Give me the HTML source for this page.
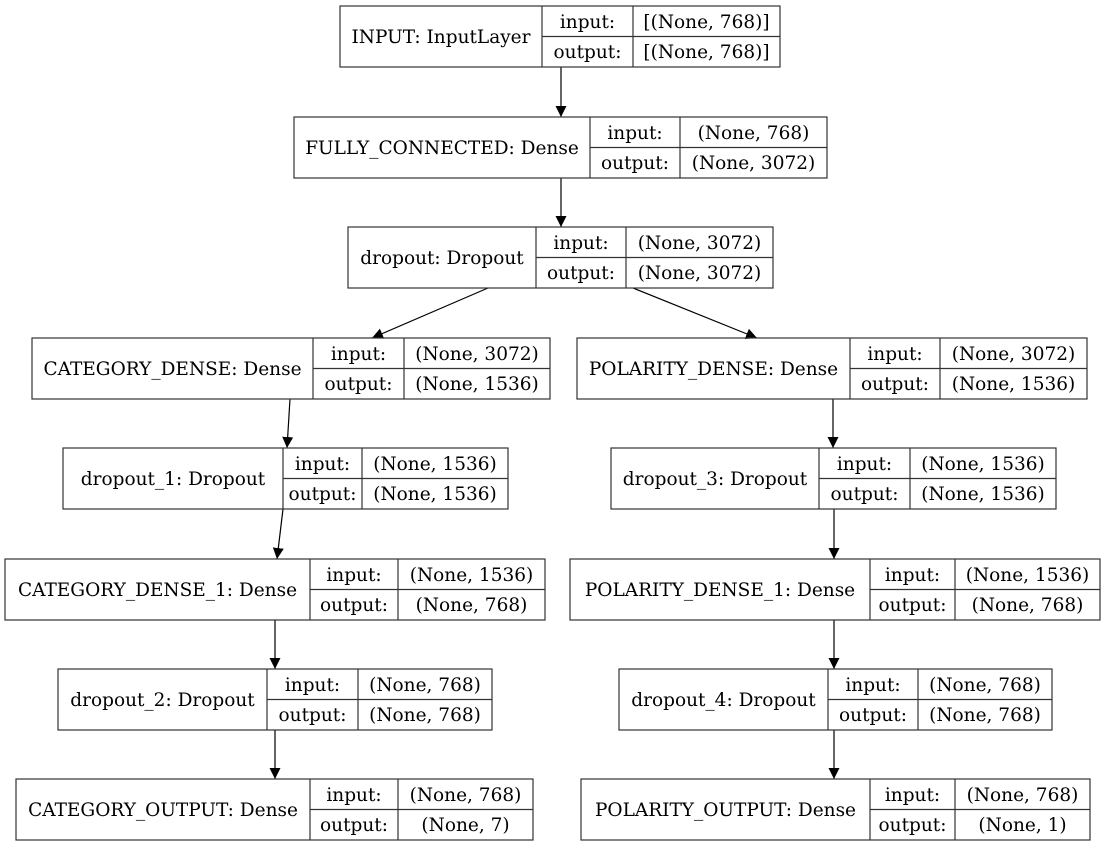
<!DOCTYPE html>
<html><head><meta charset="utf-8"><style>
html,body{margin:0;padding:0;background:#fff;}
svg{display:block;}
text{font-family:"DejaVu Serif","Liberation Serif",serif;font-size:18.5px;fill:#000;}
</style></head><body>
<svg width="1106" height="848" viewBox="0 0 1106 848" xmlns="http://www.w3.org/2000/svg">
<defs><marker id="a" markerWidth="12" markerHeight="12" refX="11" refY="5.5" orient="auto" markerUnits="userSpaceOnUse"><path d="M0,0 L11,5.5 L0,11 z" fill="#000"/></marker></defs>
<g stroke="#000" stroke-width="1.2" fill="none" marker-end="url(#a)">
<line x1="561" y1="67" x2="561" y2="117"/>
<line x1="561" y1="178" x2="561" y2="227"/>
<line x1="488" y1="288" x2="372" y2="338"/>
<line x1="633" y1="288" x2="757" y2="338"/>
<line x1="290" y1="399" x2="287" y2="448"/>
<line x1="833" y1="399" x2="833" y2="448"/>
<line x1="283" y1="509" x2="277" y2="559"/>
<line x1="834" y1="509" x2="834" y2="559"/>
<line x1="275" y1="620" x2="275" y2="669"/>
<line x1="834" y1="620" x2="834" y2="669"/>
<line x1="275" y1="730" x2="275" y2="779"/>
<line x1="834" y1="730" x2="834" y2="779"/>
</g>
<g stroke="#333" stroke-width="1.2" fill="none">
<rect x="340" y="6" width="440" height="61"/><line x1="542" y1="6" x2="542" y2="67"/><line x1="633" y1="6" x2="633" y2="67"/><line x1="542" y1="36.5" x2="780" y2="36.5"/>
<rect x="294" y="117" width="533" height="61"/><line x1="590" y1="117" x2="590" y2="178"/><line x1="680" y1="117" x2="680" y2="178"/><line x1="590" y1="147.5" x2="827" y2="147.5"/>
<rect x="348" y="227" width="425" height="61"/><line x1="536" y1="227" x2="536" y2="288"/><line x1="626" y1="227" x2="626" y2="288"/><line x1="536" y1="257.5" x2="773" y2="257.5"/>
<rect x="32" y="338" width="518" height="61"/><line x1="313" y1="338" x2="313" y2="399"/><line x1="404" y1="338" x2="404" y2="399"/><line x1="313" y1="368.5" x2="550" y2="368.5"/>
<rect x="577" y="338" width="510" height="61"/><line x1="850" y1="338" x2="850" y2="399"/><line x1="940" y1="338" x2="940" y2="399"/><line x1="850" y1="368.5" x2="1087" y2="368.5"/>
<rect x="63" y="448" width="445" height="61"/><line x1="283" y1="448" x2="283" y2="509"/><line x1="362" y1="448" x2="362" y2="509"/><line x1="283" y1="478.5" x2="508" y2="478.5"/>
<rect x="611" y="448" width="445" height="61"/><line x1="819" y1="448" x2="819" y2="509"/><line x1="910" y1="448" x2="910" y2="509"/><line x1="819" y1="478.5" x2="1056" y2="478.5"/>
<rect x="5" y="559" width="540" height="61"/><line x1="310" y1="559" x2="310" y2="620"/><line x1="398" y1="559" x2="398" y2="620"/><line x1="310" y1="589.5" x2="545" y2="589.5"/>
<rect x="570" y="559" width="530" height="61"/><line x1="870" y1="559" x2="870" y2="620"/><line x1="955" y1="559" x2="955" y2="620"/><line x1="870" y1="589.5" x2="1100" y2="589.5"/>
<rect x="58" y="669" width="434" height="61"/><line x1="267" y1="669" x2="267" y2="730"/><line x1="358" y1="669" x2="358" y2="730"/><line x1="267" y1="699.5" x2="492" y2="699.5"/>
<rect x="619" y="669" width="433" height="61"/><line x1="828" y1="669" x2="828" y2="730"/><line x1="918" y1="669" x2="918" y2="730"/><line x1="828" y1="699.5" x2="1052" y2="699.5"/>
<rect x="16" y="779" width="517" height="61"/><line x1="310" y1="779" x2="310" y2="840"/><line x1="398" y1="779" x2="398" y2="840"/><line x1="310" y1="809.5" x2="533" y2="809.5"/>
<rect x="581" y="779" width="509" height="61"/><line x1="870" y1="779" x2="870" y2="840"/><line x1="955" y1="779" x2="955" y2="840"/><line x1="870" y1="809.5" x2="1090" y2="809.5"/>
</g>
<g text-anchor="middle">
<text x="441" y="43">INPUT: InputLayer</text><text x="587.5" y="28">input:</text><text x="587.5" y="58">output:</text><text x="706.5" y="28">[(None, 768)]</text><text x="706.5" y="58">[(None, 768)]</text>
<text x="442" y="154">FULLY_CONNECTED: Dense</text><text x="635" y="139">input:</text><text x="635" y="169">output:</text><text x="753.5" y="139">(None, 768)</text><text x="753.5" y="169">(None, 3072)</text>
<text x="442" y="264">dropout: Dropout</text><text x="581" y="249">input:</text><text x="581" y="279">output:</text><text x="699.5" y="249">(None, 3072)</text><text x="699.5" y="279">(None, 3072)</text>
<text x="172.5" y="375">CATEGORY_DENSE: Dense</text><text x="358.5" y="360">input:</text><text x="358.5" y="390">output:</text><text x="477" y="360">(None, 3072)</text><text x="477" y="390">(None, 1536)</text>
<text x="713.5" y="375">POLARITY_DENSE: Dense</text><text x="895" y="360">input:</text><text x="895" y="390">output:</text><text x="1013.5" y="360">(None, 3072)</text><text x="1013.5" y="390">(None, 1536)</text>
<text x="173" y="485">dropout_1: Dropout</text><text x="322.5" y="470">input:</text><text x="322.5" y="500">output:</text><text x="435" y="470">(None, 1536)</text><text x="435" y="500">(None, 1536)</text>
<text x="715" y="485">dropout_3: Dropout</text><text x="864.5" y="470">input:</text><text x="864.5" y="500">output:</text><text x="983" y="470">(None, 1536)</text><text x="983" y="500">(None, 1536)</text>
<text x="157.5" y="596">CATEGORY_DENSE_1: Dense</text><text x="354" y="581">input:</text><text x="354" y="611">output:</text><text x="471.5" y="581">(None, 1536)</text><text x="471.5" y="611">(None, 768)</text>
<text x="720" y="596">POLARITY_DENSE_1: Dense</text><text x="912.5" y="581">input:</text><text x="912.5" y="611">output:</text><text x="1027.5" y="581">(None, 1536)</text><text x="1027.5" y="611">(None, 768)</text>
<text x="162.5" y="706">dropout_2: Dropout</text><text x="312.5" y="691">input:</text><text x="312.5" y="721">output:</text><text x="425" y="691">(None, 768)</text><text x="425" y="721">(None, 768)</text>
<text x="723.5" y="706">dropout_4: Dropout</text><text x="873" y="691">input:</text><text x="873" y="721">output:</text><text x="985" y="691">(None, 768)</text><text x="985" y="721">(None, 768)</text>
<text x="163" y="816">CATEGORY_OUTPUT: Dense</text><text x="354" y="801">input:</text><text x="354" y="831">output:</text><text x="465.5" y="801">(None, 768)</text><text x="465.5" y="831">(None, 7)</text>
<text x="725.5" y="816">POLARITY_OUTPUT: Dense</text><text x="912.5" y="801">input:</text><text x="912.5" y="831">output:</text><text x="1022.5" y="801">(None, 768)</text><text x="1022.5" y="831">(None, 1)</text>
</g>
</svg>
</body></html>
